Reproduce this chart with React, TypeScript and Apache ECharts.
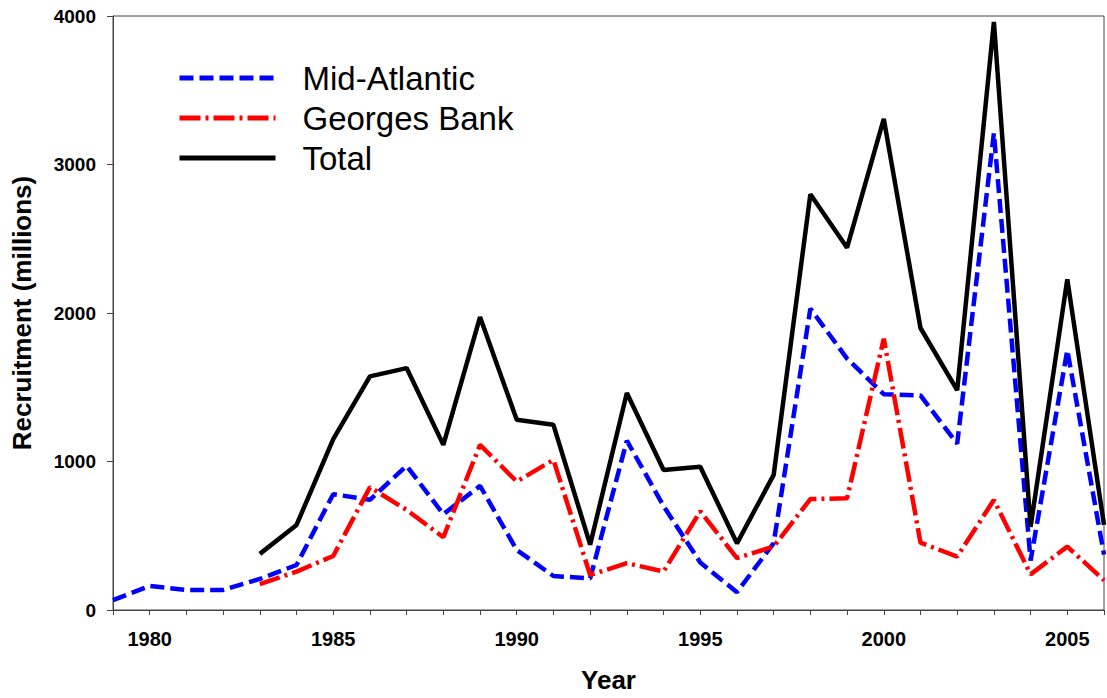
import { useEffect, useRef } from 'react';
import * as echarts from 'echarts';

type EChartsOption = echarts.EChartsOption;

const years = [
  1979, 1980, 1981, 1982, 1983, 1984, 1985, 1986, 1987, 1988, 1989, 1990, 1991, 1992,
  1993, 1994, 1995, 1996, 1997, 1998, 1999, 2000, 2001, 2002, 2003, 2004, 2005, 2006,
];
const midAtlantic = [
  67, 162, 135, 135, 209, 303, 780, 742, 971, 645, 836, 404, 229, 213,
  1140, 700, 320, 120, 450, 2030, 1693, 1453, 1445, 1120, 3210, 333, 1750, 373,
];
const georgesBank = [
  null, null, null, null, 175, 258, 364, 827, 674, 490, 1112, 865, 1011, 236,
  315, 259, 665, 350, 427, 747, 752, 1827, 453, 360, 741, 240, 427, 200,
];
const total = [
  null, null, null, null, 378, 573, 1150, 1573, 1629, 1112, 1973, 1281, 1247, 440,
  1461, 943, 965, 449, 910, 2800, 2440, 3307, 1899, 1480, 3960, 560, 2227, 573,
];
const yTicks = [0, 1000, 2000, 3000, 4000];

const FONT = 'Arial, "Liberation Sans", sans-serif';

const pairs = (vals: (number | null)[]) =>
  years.map((y, i) => [y, vals[i]]).filter((p) => p[1] !== null);

const RecruitmentChart = () => {
  const chartRef = useRef<HTMLDivElement>(null);

  useEffect(() => {
    document.body.style.margin = '0';
    if (chartRef.current) {
      const myChart = echarts.init(chartRef.current, null, { renderer: 'svg' });

      const option: EChartsOption = {
        animation: false,
        backgroundColor: '#fff',
        grid: {
          left: 113,
          right: 3,
          top: 16,
          bottom: 88,
          show: true,
          borderColor: '#444',
          borderWidth: 1,
        },
        legend: {
          left: 177,
          top: 60,
          padding: 0,
          orient: 'vertical',
          itemWidth: 96,
          itemHeight: 4,
          itemGap: 4,
          lineStyle: { width: 5 },
          textStyle: {
            fontFamily: FONT,
            fontSize: 33,
            color: '#000',
            lineHeight: 36,
            padding: [0, 0, 0, 22],
          },
          data: ['Mid-Atlantic', 'Georges Bank', 'Total'],
        },
        xAxis: {
          type: 'value',
          min: 1979,
          max: 2006,
          interval: 1,
          name: 'Year',
          nameLocation: 'middle',
          nameGap: 57,
          nameTextStyle: { fontFamily: FONT, fontSize: 26, fontWeight: 'bold', color: '#000' },
          axisLine: { lineStyle: { color: '#444', width: 1 } },
          axisTick: { length: 5, lineStyle: { color: '#444' } },
          axisLabel: {
            fontFamily: FONT,
            fontSize: 20,
            fontWeight: 'bold',
            color: '#000',
            margin: 19,
            formatter: (v: number) => (v % 5 === 0 ? String(v) : ''),
          },
          splitLine: { show: false },
        },
        yAxis: {
          type: 'value',
          min: yTicks[0],
          max: yTicks[yTicks.length - 1],
          interval: 1000,
          name: 'Recruitment (millions)',
          nameLocation: 'middle',
          nameGap: 78,
          nameTextStyle: { fontFamily: FONT, fontSize: 26, fontWeight: 'bold', color: '#000' },
          axisLine: { show: true, lineStyle: { color: '#444', width: 1 } },
          axisTick: { show: true, length: 6, lineStyle: { color: '#444' } },
          axisLabel: {
            fontFamily: FONT,
            fontSize: 19,
            fontWeight: 'bold',
            color: '#000',
            margin: 17,
            formatter: (v: number) => String(v),
          },
          splitLine: { show: false },
        },
        series: [
          {
            name: 'Mid-Atlantic',
            type: 'line',
            data: pairs(midAtlantic),
            symbol: 'none',
            color: '#0000ff',
            lineStyle: { color: '#0000ff', width: 4.5, type: [14, 6] },
          },
          {
            name: 'Georges Bank',
            type: 'line',
            data: pairs(georgesBank),
            symbol: 'none',
            color: '#ff0000',
            lineStyle: { color: '#ff0000', width: 4.5, type: [21, 5, 3, 5] },
          },
          {
            name: 'Total',
            type: 'line',
            data: pairs(total),
            symbol: 'none',
            color: '#000000',
            lineStyle: { color: '#000000', width: 4.5, type: 'solid' },
          },
        ],
      };

      myChart.setOption(option);

      return () => {
        myChart.dispose();
      };
    }
  }, []);

  return <div ref={chartRef} style={{ height: '698px', width: '1107px' }} />;
};

export default function App() {
  return <RecruitmentChart />;
}
